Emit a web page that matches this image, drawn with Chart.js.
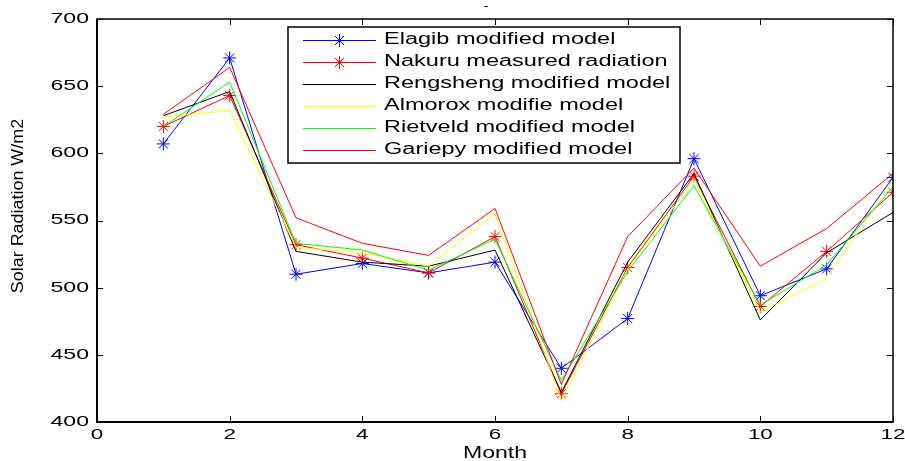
<!DOCTYPE html>
<html lang="en">
<head>
    <meta charset="UTF-8">
    <title>Solar Radiation by Month</title>
    <script src="https://cdnjs.cloudflare.com/ajax/libs/Chart.js/4.4.0/chart.umd.min.js"></script>
    <style>
        body {
            margin: 0;
            background-color: #ffffff;
        }
        #chart {
            display: block;
        }
    </style>
</head>
<body>
    <canvas id="chart" width="905" height="461"></canvas>

    <script>
        // Data
        const months = [1, 2, 3, 4, 5, 6, 7, 8, 9, 10, 11, 12];
        const elagib    = [607, 671, 510, 518, 511, 519, 440, 477, 596, 494, 514, 582];
        const nakuru    = [620, 643, 532, 522, 511, 538, 421, 515, 583, 486, 527, 571];
        const rengsheng = [628, 646, 527, 519, 516, 528, 422, 519, 585, 476, 526, 556];
        const almorox   = [627, 632, 530, 526, 516, 555, 416, 514, 580, 482, 507, 580];
        const rietveld  = [620, 653, 533, 528, 513, 536, 431, 512, 576, 487, 517, 575];
        const gariepy   = [629, 664, 552, 533, 524, 559, 428, 538, 589, 516, 544, 585];

        const xTicks = [0, 2, 4, 6, 8, 10, 12];
        const yTicks = [400, 450, 500, 550, 600, 650, 700];

        const FONT = '"Liberation Sans", Arial, Helvetica, sans-serif';

        function series(label, values, color, marker) {
            return {
                label: label,
                data: values.map((v, i) => ({ x: months[i], y: v })),
                borderColor: color,
                backgroundColor: color,
                borderWidth: 1,
                pointStyle: marker ? 'star' : false,
                pointRadius: marker ? 6.5 : 0,
                pointBorderWidth: 1,
                pointBorderColor: color,
                tension: 0,
                fill: false
            };
        }

        const datasets = [
            series('Elagib modified model', elagib, '#0000ff', true),
            series('Nakuru measured radiation', nakuru, '#ff0000', true),
            series('Rengsheng modified model', rengsheng, '#000000', false),
            series('Almorox modifie model', almorox, '#ffff00', false),
            series('Rietveld modified model', rietveld, '#00ff00', false),
            series('Gariepy modified model', gariepy, '#ff0000', false)
        ];
        // matlab style: later series drawn on top
        datasets.forEach((d, i) => { d.order = datasets.length - i; });

        // text drawn a bit wider, like the exported figure
        function wideText(ctx, text, x, y, size, sx, align, rotate) {
            ctx.save();
            ctx.translate(x, y);
            if (rotate) ctx.rotate(-Math.PI / 2);
            ctx.scale(sx, 1);
            ctx.font = size + 'px ' + FONT;
            ctx.fillStyle = '#000';
            ctx.textAlign = align;
            ctx.textBaseline = 'middle';
            ctx.fillText(text, 0, 0);
            ctx.restore();
        }

        const axesBox = {
            id: 'axesBox',
            afterDatasetsDraw(chart) {
                const ctx = chart.ctx;
                const a = chart.chartArea;
                const xs = chart.scales.x;
                const ys = chart.scales.y;

                ctx.save();
                ctx.strokeStyle = '#000';
                ctx.lineWidth = 1;
                // inward ticks on all four sides
                ctx.beginPath();
                xTicks.forEach(t => {
                    const px = Math.round(xs.getPixelForValue(t)) + 0.5;
                    ctx.moveTo(px, a.bottom); ctx.lineTo(px, a.bottom - 6);
                    ctx.moveTo(px, a.top); ctx.lineTo(px, a.top + 6);
                });
                yTicks.forEach(t => {
                    const py = Math.round(ys.getPixelForValue(t)) + 0.5;
                    ctx.moveTo(a.left, py); ctx.lineTo(a.left + 6, py);
                    ctx.moveTo(a.right, py); ctx.lineTo(a.right - 6, py);
                });
                ctx.stroke();

                ctx.lineWidth = 1.5;
                ctx.strokeRect(a.left, a.top, a.right - a.left, a.bottom - a.top);
                ctx.lineWidth = 2;
                ctx.beginPath();
                ctx.moveTo(a.left, a.top);
                ctx.lineTo(a.left, a.bottom);
                ctx.lineTo(a.right, a.bottom);
                ctx.stroke();
                ctx.restore();

                // tick labels
                xTicks.forEach(t => {
                    wideText(ctx, String(t), xs.getPixelForValue(t), a.bottom + 13, 14, 1.6, 'center');
                });
                yTicks.forEach(t => {
                    wideText(ctx, String(t), a.left - 8, ys.getPixelForValue(t), 14, 1.65, 'right');
                });

                // titles
                wideText(ctx, 'Month', (a.left + a.right) / 2, 454, 16, 1.44, 'center');
                wideText(ctx, 'Solar Radiation W/m2', 19, 206, 16, 1.12, 'center', true);
                wideText(ctx, '-', 486, 7, 12, 1.2, 'center');

                // legend
                const lx = 288, ly = 27, lw = 392, lh = 136;
                ctx.save();
                ctx.fillStyle = '#fff';
                ctx.fillRect(lx, ly, lw, lh);
                ctx.strokeStyle = '#000';
                ctx.lineWidth = 1.5;
                ctx.strokeRect(lx, ly, lw, lh);
                chart.data.datasets.forEach((d, i) => {
                    const y = ly + 13 + i * 22;
                    ctx.strokeStyle = d.borderColor;
                    ctx.lineWidth = 1;
                    ctx.beginPath();
                    ctx.moveTo(303, y + 0.5);
                    ctx.lineTo(376, y + 0.5);
                    ctx.stroke();
                    if (d.pointStyle) {
                        ctx.fillStyle = d.borderColor;
                        Chart.helpers.drawPoint(ctx, {
                            pointStyle: 'star', radius: 6.5, rotation: 0, borderWidth: 1
                        }, 339.5, y + 0.5);
                    }
                    wideText(ctx, d.label, 384, y, 16, 1.47, 'left');
                });
                ctx.restore();
            }
        };

        new Chart(document.getElementById('chart'), {
            type: 'line',
            data: { datasets: datasets },
            options: {
                responsive: false,
                animation: false,
                layout: {
                    padding: { left: 97, top: 19, right: 12, bottom: 39 }
                },
                plugins: {
                    legend: { display: false },
                    tooltip: { enabled: false },
                    title: { display: false }
                },
                scales: {
                    x: {
                        type: 'linear',
                        min: 0,
                        max: 12,
                        display: false
                    },
                    y: {
                        min: 400,
                        max: 700,
                        display: false
                    }
                }
            },
            plugins: [axesBox]
        });
    </script>
</body>
</html>
